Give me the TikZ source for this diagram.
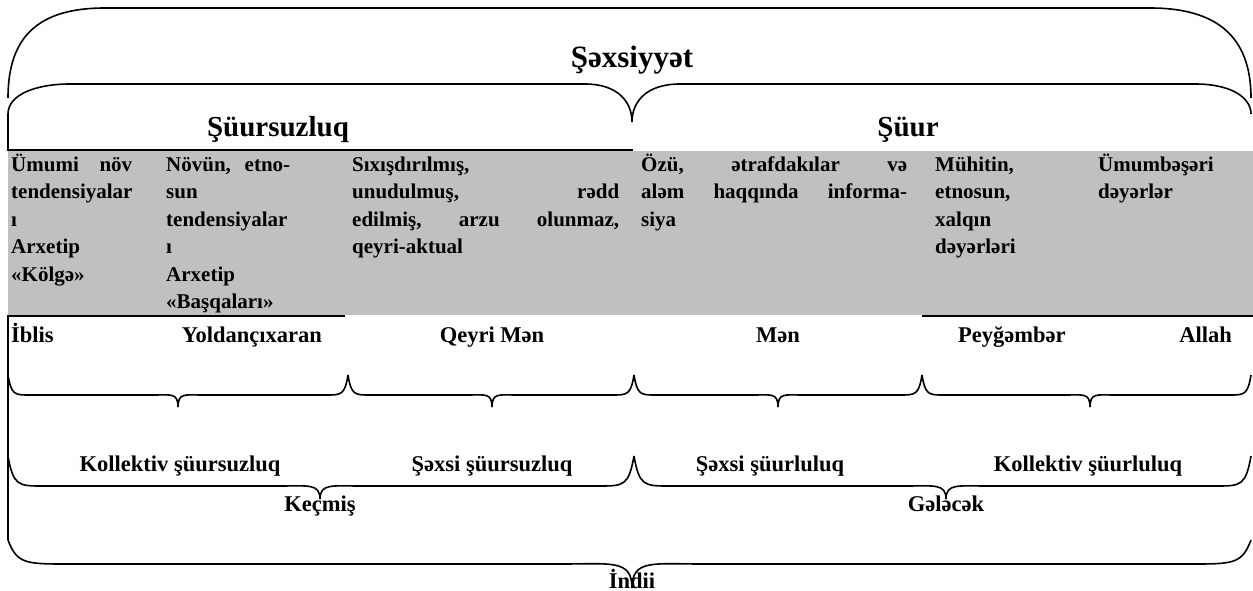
\documentclass[tikz,border=0pt]{standalone}
\usepackage{fontspec}
\setmainfont{Liberation Serif}
\definecolor{cellgray}{HTML}{C0C0C0}
\newcommand\mybrace[8]{% x1 x2 xt yend ybody ytip rend rtip
  \draw[ln] (#1,#4) .. controls (#1+0.15*#7,#5) and (#1+0.3*#7,#5) .. (#1+#7,#5)
    -- (#3-#8,#5) .. controls (#3-0.3*#8,#5) and (#3,#5-0.2*#6+0.2*#5) .. (#3,#6)
    .. controls (#3,#5-0.2*#6+0.2*#5) and (#3+0.3*#8,#5) .. (#3+#8,#5)
    -- (#2-#7,#5) .. controls (#2-0.3*#7,#5) and (#2-0.15*#7,#5) .. (#2,#4);}
\begin{document}
\begin{tikzpicture}[x=1pt,y=-1pt,
  ln/.style={line width=1.6pt},
  bln/.style={line width=2.4pt},
  txt/.style={font=\bfseries\fontsize{21}{27.5}\selectfont, inner sep=0pt},
  btxt/.style={font=\bfseries\fontsize{22.5}{27.5}\selectfont, inner sep=0pt},
  col/.style={txt, anchor=north west, align=left},
  rowtxt/.style={btxt, anchor=base},
  title/.style={font=\bfseries\fontsize{29}{31}\selectfont, inner sep=0pt},
]
\useasboundingbox (0,0) rectangle (1253,591);
% gray band
\fill[cellgray] (8,151) rectangle (1253,315);
% top arcs
\draw[ln] (8,98) .. controls (8,35) and (40,8) .. (105,8) -- (1150,8)
  .. controls (1215,8) and (1251,35) .. (1251,98);
\draw[ln] (8,150) -- (8,114) .. controls (8,95) and (35,84) .. (70,84) -- (585,84)
  .. controls (618,84) and (632,102) .. (632,122)
  .. controls (632,102) and (646,84) .. (680,84) -- (1195,84)
  .. controls (1232,84) and (1251,98) .. (1251,114);
\node[title, font=\bfseries\fontsize{31}{33}\selectfont] (sx) at (632,60) {Şəxsiyyət};
\node[title] (su) at (278,130) {Şüursuzluq};
\node[title] (sr) at (908,130) {Şüur};
% thick lines
\draw[bln] (7,150) -- (633,150);
\draw[bln] (7,316) -- (345,316);
\draw[bln] (922,316) -- (1253,316);
\draw[ln] (8,316) -- (8,540);
% columns
\node[col, text width=121pt] (c1) at (11,152) {\strut Ümumi\hfill növ\\ tendensiyalar\\ ı\\ Arxetip\\ «Kölgə»};
\node[col, text width=124pt] (c2) at (166,152) {\strut Növün,\hfill etno-\\ sun\\ tendensiyalar\\ ı\\ Arxetip\\ «Başqaları»};
\node[col, text width=267pt] (c3) at (352,152) {\strut Sıxışdırılmış,\\ unudulmuş,\hfill rədd\\ edilmiş,\hfill arzu\hfill olunmaz,\\ qeyri-aktual};
\node[col, text width=266pt] (c4) at (641,152) {\strut Özü,\hfill ətrafdakılar\hfill və\\ aləm\hfill haqqında\hfill informa-\\ siya};
\node[col, text width=110pt] (c5) at (935,152) {\strut Mühitin,\\ etnosun,\\ xalqın\\ dəyərləri};
\node[col, text width=110pt] (c6) at (1098,152) {\strut Ümumbəşəri\\ dəyərlər};
% second row
\node[btxt, anchor=base west] (ib) at (11,342) {İblis};
\node[btxt, anchor=base east] (yo) at (322,342) {Yoldançıxaran};
\node[rowtxt] (qm) at (492,342) {Qeyri Mən};
\node[rowtxt] (mn) at (778,342) {Mən};
\node[btxt, anchor=base west] (pe) at (958,342) {Peyğəmbər};
\node[btxt, anchor=base east] (al) at (1232,342) {Allah};
% first brace row
\mybrace{8}{348}{178}{375}{395}{407}{22}{24}
\mybrace{348}{634}{492}{375}{395}{407}{22}{24}
\mybrace{634}{922}{778}{375}{395}{407}{22}{24}
\mybrace{922}{1251}{1090}{375}{395}{407}{22}{24}
% third row text
\node[rowtxt] (ks) at (180,471) {Kollektiv şüursuzluq};
\node[rowtxt] (ss) at (492,471) {Şəxsi şüursuzluq};
\node[rowtxt] (sl) at (770,471) {Şəxsi şüurluluq};
\node[rowtxt] (kl) at (1088,471) {Kollektiv şüurluluq};
% second brace row
\mybrace{8}{634}{320}{456}{486}{499}{35}{40}
\mybrace{634}{1251}{946}{456}{486}{499}{35}{40}
\node[rowtxt] (ke) at (320,511) {Keçmiş};
\node[rowtxt] (ge) at (946,511) {Gələcək};
% bottom brace
\mybrace{8}{1251}{632}{540}{564}{588}{60}{70}
\node[rowtxt] (in) at (632,588) {İndii};
\end{tikzpicture}
\end{document}
